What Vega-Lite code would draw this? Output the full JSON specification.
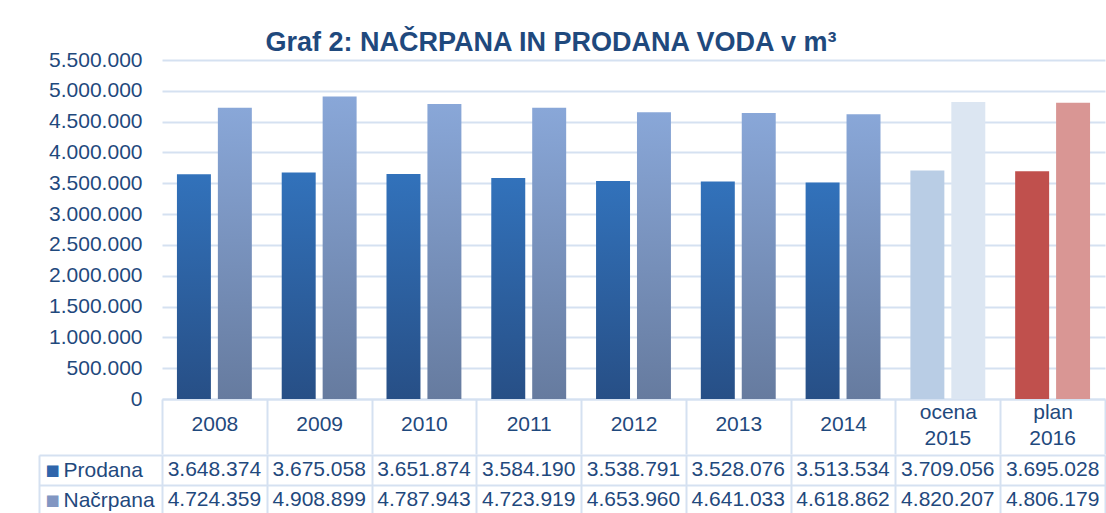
{
  "$schema": "https://vega.github.io/schema/vega-lite/v6.json",
  "padding": {"left": 38, "top": 29, "right": 0, "bottom": 0},
  "background": "white",
  "config": {
    "locale": {"number": {"decimal": ",", "thousands": ".", "grouping": [3], "currency": ["", ""]}},
    "view": {"stroke": null},
    "font": "Liberation Sans",
    "concat": {"spacing": -12}
  },
  "title": {
    "text": "Graf 2: NAČRPANA IN PRODANA VODA v m³",
    "fontSize": 27,
    "font": "Liberation Sans",
    "fontWeight": "bold",
    "color": "#1f497d",
    "anchor": "middle",
    "frame": "bounds",
    "offset": 0,
    "dx": -21,
    "dy": 8
  },
  "datasets": {
    "voda": [
      {"leto": "2008", "serija": "Prodana", "vrednost": 3648374},
      {"leto": "2009", "serija": "Prodana", "vrednost": 3675058},
      {"leto": "2010", "serija": "Prodana", "vrednost": 3651874},
      {"leto": "2011", "serija": "Prodana", "vrednost": 3584190},
      {"leto": "2012", "serija": "Prodana", "vrednost": 3538791},
      {"leto": "2013", "serija": "Prodana", "vrednost": 3528076},
      {"leto": "2014", "serija": "Prodana", "vrednost": 3513534},
      {"leto": "ocena 2015", "serija": "Prodana", "vrednost": 3709056},
      {"leto": "plan 2016", "serija": "Prodana", "vrednost": 3695028},
      {"leto": "2008", "serija": "Načrpana", "vrednost": 4724359},
      {"leto": "2009", "serija": "Načrpana", "vrednost": 4908899},
      {"leto": "2010", "serija": "Načrpana", "vrednost": 4787943},
      {"leto": "2011", "serija": "Načrpana", "vrednost": 4723919},
      {"leto": "2012", "serija": "Načrpana", "vrednost": 4653960},
      {"leto": "2013", "serija": "Načrpana", "vrednost": 4641033},
      {"leto": "2014", "serija": "Načrpana", "vrednost": 4618862},
      {"leto": "ocena 2015", "serija": "Načrpana", "vrednost": 4820207},
      {"leto": "plan 2016", "serija": "Načrpana", "vrednost": 4806179}
    ]
  },
  "spacing": -12,
  "vconcat": [
    {
      "width": 943,
      "height": 339,
      "data": {"name": "voda"},
      "layer": [
        {
          "mark": {"type": "bar"},
          "encoding": {
            "x": {
              "field": "leto", "type": "nominal", "sort": null,
              "scale": {"paddingInner": 0, "paddingOuter": 0},
              "axis": {
                "title": null, "orient": "bottom", "tickBand": "extent",
                "ticks": true, "tickSize": 55, "tickColor": "#d5e1f1", "tickWidth": 2,
                "domain": true, "domainColor": "#d5e1f1", "domainWidth": 2,
                "labelAngle": 0,
                "labelExpr": "indexof(datum.label, ' ') > 0 ? split(datum.label, ' ')[0] : datum.label",
                "labelBaseline": "middle",
                "labelPadding": {"condition": {"test": "indexof(datum.label, ' ') > 0", "value": -42}, "value": -30},
                "labelFontSize": 21, "labelColor": "#1f497d", "labelFont": "Liberation Sans"
              }
            },
            "xOffset": {
              "field": "serija", "type": "nominal", "sort": ["Prodana", "Načrpana"],
              "scale": {"paddingInner": 0.17, "paddingOuter": 0.365}
            },
            "y": {
              "field": "vrednost", "type": "quantitative",
              "scale": {"domain": [0, 5500000], "nice": false},
              "axis": {
                "title": null,
                "values": [0, 500000, 1000000, 1500000, 2000000, 2500000, 3000000, 3500000, 4000000, 4500000, 5000000, 5500000],
                "format": ",d", "labelFontSize": 21, "labelColor": "#1f497d", "labelFont": "Liberation Sans",
                "labelPadding": 20, "ticks": false, "domain": false,
                "gridColor": "#d5e1f1", "gridWidth": 2
              }
            },
            "color": {
              "condition": [
                {"test": "datum.leto == 'ocena 2015' && datum.serija == 'Prodana'", "value": "#b9cde5"},
                {"test": "datum.leto == 'ocena 2015'", "value": "#dce6f2"},
                {"test": "datum.leto == 'plan 2016' && datum.serija == 'Prodana'", "value": "#c0504d"},
                {"test": "datum.leto == 'plan 2016'", "value": "#d99694"},
                {"test": "datum.serija == 'Prodana'", "value": {"gradient": "linear", "x1": 0, "y1": 0, "x2": 0, "y2": 1, "stops": [{"offset": 0, "color": "#3272bb"}, {"offset": 1, "color": "#274f86"}]}}
              ],
              "value": {"gradient": "linear", "x1": 0, "y1": 0, "x2": 0, "y2": 1, "stops": [{"offset": 0, "color": "#89a7d8"}, {"offset": 1, "color": "#667b9f"}]}
            }
          }
        },
        {
          "mark": {"type": "text", "opacity": 0},
          "encoding": {
            "x": {
              "field": "leto", "type": "nominal", "sort": null,
              "axis": {
                "title": null, "orient": "bottom", "ticks": false, "domain": false, "grid": false,
                "labelAngle": 0,
                "labelExpr": "indexof(datum.label, ' ') > 0 ? split(datum.label, ' ')[1] : ''",
                "labelBaseline": "middle", "labelPadding": 39,
                "labelFontSize": 21, "labelColor": "#1f497d", "labelFont": "Liberation Sans"
              }
            },
            "text": {"value": ""}
          }
        }
      ],
      "resolve": {"axis": {"x": "independent"}}
    },
    {
      "width": 943,
      "height": 60,
      "data": {"name": "voda"},
      "layer": [
        {
          "mark": {"type": "text", "fontSize": 21, "color": "#1f497d", "font": "Liberation Sans"},
          "encoding": {
            "x": {
              "field": "leto", "type": "nominal", "sort": null,
              "scale": {"paddingInner": 0, "paddingOuter": 0},
              "axis": {"orient": "bottom", "title": null, "labels": false, "ticks": false, "domain": false, "grid": true, "tickBand": "extent", "gridColor": "#d5e1f1", "gridWidth": 2}
            },
            "y": {
              "field": "serija", "type": "nominal", "sort": ["Prodana", "Načrpana"],
              "scale": {"paddingInner": 0, "paddingOuter": 0},
              "axis": {
                "title": null, "orient": "left", "offset": 123, "tickBand": "extent",
                "grid": true, "gridColor": "#d5e1f1", "gridWidth": 2,
                "ticks": true, "tickSize": -123, "tickColor": "#d5e1f1", "tickWidth": 2,
                "domain": true, "domainColor": "#d5e1f1", "domainWidth": 2,
                "labelAlign": "left", "labelPadding": 99, "labelBaseline": "middle",
                "labelFontSize": 21, "labelColor": "#1f497d", "labelFont": "Liberation Sans"
              }
            },
            "text": {"field": "vrednost", "type": "quantitative", "format": ",d"}
          }
        },
        {
          "mark": {"type": "text", "opacity": 0},
          "encoding": {
            "x": {"field": "leto", "type": "nominal", "sort": null},
            "y": {
              "field": "serija", "type": "nominal", "sort": ["Prodana", "Načrpana"],
              "axis": {
                "title": null, "orient": "left", "offset": 123,
                "grid": false, "ticks": false, "domain": false,
                "labelExpr": "'■'", "labelAlign": "left", "labelPadding": -6, "labelBaseline": "middle",
                "labelFont": "DejaVu Sans", "labelFontSize": 15,
                "labelColor": {"condition": {"test": "datum.value == 'Prodana'", "value": "#2f65ab"}, "value": "#8196c2"}
              }
            },
            "text": {"value": ""}
          }
        }
      ],
      "resolve": {"axis": {"y": "independent"}}
    }
  ]
}
